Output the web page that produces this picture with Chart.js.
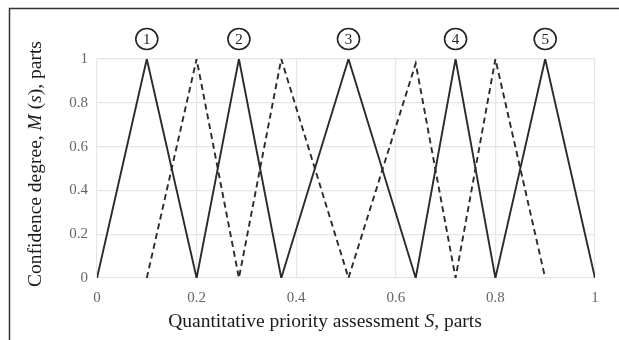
<!DOCTYPE html>
<html>
<head>
<meta charset="utf-8">
<script src="https://cdn.jsdelivr.net/npm/chart.js@4.4.1/dist/chart.umd.min.js"></script>
<style>
  html, body { margin: 0; padding: 0; background: #fff; }
  #wrap { position: relative; width: 619px; height: 340px; }
</style>
</head>
<body>
<div id="wrap"><canvas id="c" width="619" height="340"></canvas></div>
<script>
// ---- data ----
const solidS  = [0, 0.1, 0.2, 0.285, 0.37, 0.505, 0.64, 0.72, 0.8, 0.9, 1];
const solidM  = [0, 1,   0,   1,     0,    1,     0,    1,    0,   1,   0];
const dashedS = [0.1, 0.2, 0.285, 0.37, 0.505, 0.64, 0.72, 0.8, 0.9];
const dashedM = [0,   1,   0,     1,    0,     0.98, 0,    1,   0];
const termLabels = ['1', '2', '3', '4', '5'];
const termPeaks  = [0.1, 0.285, 0.505, 0.72, 0.9];
const xTickValues = [0, 0.2, 0.4, 0.6, 0.8, 1];
const xTickLabels = ['0', '0.2', '0.4', '0.6', '0.8', '1'];
const yTickValues = [0, 0.2, 0.4, 0.6, 0.8, 1];
const yTickLabels = ['0', '0.2', '0.4', '0.6', '0.8', '1'];
const xTitleParts = [['Quantitative priority assessment ', false], ['S', true], [', parts', false]];
const yTitleParts = [['Confidence degree, ', false], ['M', true], [' (', false], ['s', true], ['), parts', false]];

const SERIF = '"Liberation Serif", "Times New Roman", serif';

function toPts(xs, ys) { return xs.map((x, i) => ({ x: x, y: ys[i] })); }

function drawParts(ctx, parts, size, cx, cy) {
  let total = 0;
  parts.forEach(p => {
    ctx.font = (p[1] ? 'italic ' : '') + size + 'px ' + SERIF;
    total += ctx.measureText(p[0]).width;
  });
  let x = cx - total / 2;
  ctx.textAlign = 'left';
  ctx.textBaseline = 'middle';
  parts.forEach(p => {
    ctx.font = (p[1] ? 'italic ' : '') + size + 'px ' + SERIF;
    ctx.fillText(p[0], x, cy);
    x += ctx.measureText(p[0]).width;
  });
}

const decor = {
  id: 'decor',
  afterDraw(chart) {
    const ctx = chart.ctx;
    const xs = chart.scales.x, ys = chart.scales.y;
    ctx.save();
    // frame (top and left rules)
    ctx.strokeStyle = '#333';
    ctx.lineWidth = 1.5;
    ctx.beginPath();
    ctx.moveTo(9.5, 340);
    ctx.lineTo(9.5, 8.5);
    ctx.lineTo(619, 8.5);
    ctx.stroke();
    // circled term numbers
    termPeaks.forEach((p, i) => {
      const cx = xs.getPixelForValue(p);
      const cy = ys.getPixelForValue(1) - 20;
      ctx.beginPath();
      ctx.ellipse(cx, cy, 11, 10.5, 0, 0, Math.PI * 2);
      ctx.strokeStyle = '#222';
      ctx.lineWidth = 1.6;
      ctx.stroke();
      ctx.fillStyle = '#222';
      ctx.font = '15px ' + SERIF;
      ctx.textAlign = 'center';
      ctx.textBaseline = 'middle';
      ctx.fillText(termLabels[i], cx, cy + 1);
    });
    // axis titles
    ctx.fillStyle = '#1a1a1a';
    drawParts(ctx, xTitleParts, 19.5, 325, 322);
    ctx.save();
    ctx.translate(36, 164);
    ctx.rotate(-Math.PI / 2);
    drawParts(ctx, yTitleParts, 19.5, 0, 0);
    ctx.restore();
    ctx.restore();
  }
};

new Chart(document.getElementById('c'), {
  type: 'line',
  data: {
    datasets: [
      {
        data: toPts(solidS, solidM),
        borderColor: '#2b2b2b',
        borderWidth: 1.9,
        pointRadius: 0,
        tension: 0,
        fill: false
      },
      {
        data: toPts(dashedS, dashedM),
        borderColor: '#2b2b2b',
        borderWidth: 1.9,
        borderDash: [6, 4],
        pointRadius: 0,
        tension: 0,
        fill: false
      }
    ]
  },
  options: {
    responsive: false,
    animation: false,
    events: [],
    layout: { padding: { left: 0, right: 24, top: 59, bottom: 0 } },
    plugins: { legend: { display: false }, tooltip: { enabled: false } },
    scales: {
      x: {
        type: 'linear',
        min: 0, max: 1,
        afterBuildTicks(scale) { scale.ticks = xTickValues.map(v => ({ value: v })); },
        afterFit(scale) { scale.height = 62; },
        grid: { color: '#e6e6e6', lineWidth: 1.2, drawTicks: false },
        border: { display: false },
        ticks: {
          padding: 11,
          color: '#666',
          font: { family: SERIF, size: 15 },
          callback: (v) => { const i = xTickValues.indexOf(v); return i >= 0 ? xTickLabels[i] : ''; }
        }
      },
      y: {
        type: 'linear',
        min: 0, max: 1,
        afterBuildTicks(scale) { scale.ticks = yTickValues.map(v => ({ value: v })); },
        afterFit(scale) { scale.width = 97; },
        grid: { color: '#e6e6e6', lineWidth: 1.2, drawTicks: false },
        border: { display: false },
        ticks: {
          padding: 9,
          color: '#666',
          font: { family: SERIF, size: 15 },
          callback: (v) => { const i = yTickValues.indexOf(v); return i >= 0 ? yTickLabels[i] : ''; }
        }
      }
    }
  },
  plugins: [decor]
});
</script>
</body>
</html>
